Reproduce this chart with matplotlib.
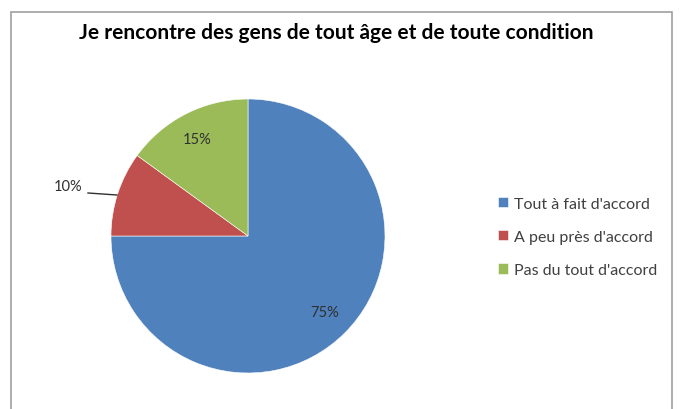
import matplotlib
matplotlib.use("Agg")
import matplotlib.pyplot as plt
from matplotlib.patches import Rectangle
import numpy as np

categories = ["Tout à fait d'accord", "A peu près d'accord", "Pas du tout d'accord"]
values = [75, 10, 15]
labels = ["75%", "10%", "15%"]
colors = ["#4F81BD", "#C0504D", "#9BBB59"]
title = "Je rencontre des gens de tout âge et de toute condition"

W, H = 680, 410
fig = plt.figure(figsize=(W / 100, H / 100), dpi=100)
fig.patch.set_facecolor("white")

# chart frame
fig.add_artist(Rectangle((11 / W, -0.05), (672 - 11) / W, 1.05 - 13 / H,
                         transform=fig.transFigure, fill=False,
                         edgecolor="#A0A0A0", linewidth=1.2))

cx, cy, r = 248, 237, 137
ax = fig.add_axes([(cx - r) / W, 1 - (cy + r) / H, 2 * r / W, 2 * r / H])
wedges, _ = ax.pie(values, colors=colors, startangle=90, counterclock=False,
                   radius=1.0, wedgeprops=dict(edgecolor="white", linewidth=0.4))
ax.set_xlim(-1, 1)
ax.set_ylim(-1, 1)
ax.set_aspect("equal")
ax.axis("off")

font = ["Lato", "DejaVu Sans"]
lab_size = 10.5
# data labels
ax.text(77 / r, -76 / r, labels[0], ha="center", va="center", fontsize=lab_size,
        color="#303030", family=font)
ax.text(-51 / r, 97 / r, labels[2], ha="center", va="center", fontsize=lab_size,
        color="#303030", family=font)
ax.text((68 - cx) / r, (cy - 187) / r, labels[1], ha="center", va="center",
        fontsize=lab_size, color="#303030", family=font)
ax.plot([(88 - cx) / r, (117 - cx) / r], [(cy - 194) / r, (cy - 196) / r],
        color="#303030", linewidth=1.0, clip_on=False)

fig.text(336 / W, 1 - 33 / H, title, ha="center", va="center", fontsize=15,
         fontweight="bold", color="black", family=font)

leg = fig.legend(wedges, categories, loc="center left",
                 bbox_to_anchor=(484 / W, 1 - 238 / H), frameon=False,
                 prop={"family": font, "size": 11.5}, labelcolor="#404040",
                 handlelength=0.6, handleheight=0.6, handletextpad=0.35,
                 labelspacing=1.2)

fig.savefig("out.png", dpi=100, facecolor="white")
